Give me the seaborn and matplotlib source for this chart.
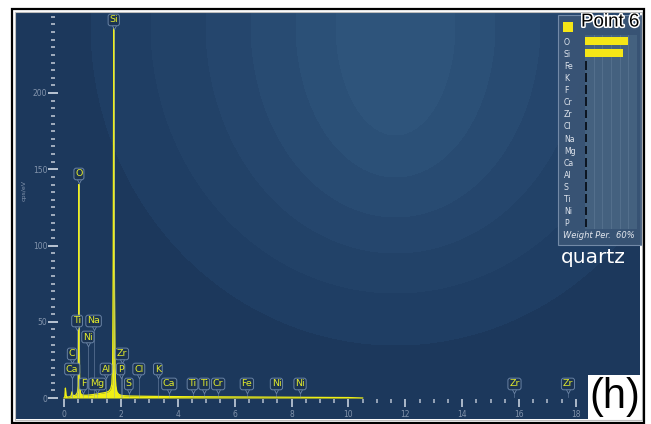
"""EDS spectrum, point 6 (quartz) — seaborn re-draw of the software screenshot."""

import numpy as np
import matplotlib
matplotlib.use("Agg")
import matplotlib.pyplot as plt
import matplotlib.patheffects as pe
from matplotlib.patches import Rectangle
from matplotlib.ticker import FixedLocator
import seaborn as sns

# ── Data ──────────────────────────────────────────────────────────────────────
energy_kev = [0.00, 0.03, 0.05, 0.07, 0.09, 0.13, 0.20, 0.25, 0.28, 0.31,
              0.36, 0.42, 0.47, 0.50, 0.515, 0.525, 0.535, 0.55, 0.58, 0.64,
              0.72, 0.80, 0.90, 1.00, 1.10, 1.20, 1.30, 1.40, 1.50, 1.58,
              1.64, 1.68, 1.71, 1.73, 1.75, 1.77, 1.79, 1.82, 1.86, 1.92,
              2.00, 2.10, 2.30, 2.60, 3.00, 3.50, 4.00, 5.00, 6.00, 7.00,
              8.00, 9.00, 10.00, 10.50]
counts_cps = [0.0, 1.0, 6.5, 2.0, 1.0, 0.6, 0.8, 1.5, 4.0, 1.8,
              1.5, 2.0, 3.5, 8.0, 45.0, 140.0, 45.0, 8.0, 3.0, 2.0,
              1.8, 1.8, 2.0, 2.2, 2.5, 2.8, 3.1, 3.4, 3.8, 4.5,
              6.0, 9.0, 20.0, 90.0, 243.0, 90.0, 20.0, 8.0, 4.0, 2.5,
              1.8, 1.5, 1.3, 1.2, 1.1, 1.0, 0.9, 0.8, 0.7, 0.6,
              0.5, 0.4, 0.3, 0.0]

# peak tags: element, line energy (keV), tag height (cps/eV)
tag_elements = ["Si", "O", "Ti", "Na", "Ni", "C", "Ca", "F", "Mg", "Al", "Zr", "P",
                "S", "Cl", "K", "Ca", "Ti", "Ti", "Cr", "Fe", "Ni", "Ni", "Zr", "Zr"]
tag_energies = [1.75, 0.525, 0.46, 1.04, 0.84, 0.28, 0.29, 0.68, 1.17, 1.48, 2.04, 1.99,
                2.28, 2.63, 3.30, 3.70, 4.52, 4.93, 5.42, 6.43, 7.47, 8.30, 15.84, 17.72]
tag_levels = [247.9, 146.9, 50.5, 50.5, 40.0, 28.9, 19.0, 9.2, 9.2, 19.0, 28.9, 19.0,
              9.2, 19.0, 19.0, 9.2, 9.2, 9.2, 9.2, 9.2, 9.2, 9.2, 9.2, 9.2]

# weight percent panel
wt_elements = ["O", "Si", "Fe", "K", "F", "Cr", "Zr", "Cl",
               "Na", "Mg", "Ca", "Al", "S", "Ti", "Ni", "P"]
wt_percent = [49.5, 43.8, 2.0, 2.0, 2.0, 2.0, 2.0, 2.0,
              2.0, 2.0, 2.0, 2.0, 2.0, 2.0, 2.0, 2.0]

X_MAJOR = [0, 2, 4, 6, 8, 10, 12, 14, 16, 18]
Y_MAJOR = [0, 50, 100, 150, 200]

# ── Layout (pixels of the 651x424 screenshot) ─────────────────────────────────
W, H = 651, 424
PX_X0, PX_PER_KEV = 64.0, 28.44       # x=0 keV at px 64
PX_Y0, PX_PER_CPS = 398.0, 1.525      # y=0 at px 398
PANEL = (16, 13, 640, 419)            # left, top, right, bottom

BG = "#1c385c"
YELLOW = "#f0f014"
TAG_TXT = "#e2ea2c"
TAG_FC = "#1b3352"
TAG_EC = "#6c86a8"
GREY_TXT = "#8394ac"


def fig_rect(x0, y0, x1, y1):
    return [x0 / W, 1 - y1 / H, (x1 - x0) / W, (y1 - y0) / H]


def kev(px):
    return (px - PX_X0) / PX_PER_KEV


def cps(py):
    return (PX_Y0 - py) / PX_PER_CPS


plt.rcParams["font.family"] = ["DejaVu Sans"]
fig = plt.figure(figsize=(6.51, 4.24), dpi=100)
fig.patch.set_facecolor("white")

# ── Background with concentric halo ───────────────────────────────────────────
ax_bg = fig.add_axes(fig_rect(*PANEL))
ax_bg.set_axis_off()
ax_bg.set_zorder(0)
yy, xx = np.mgrid[PANEL[1]:PANEL[3], PANEL[0]:PANEL[2]]
rings = [(305, 320), (245, 268), (190, 228), (145, 192), (100, 152), (60, 110)]
ring_cols = ["#1f3e64", "#224268", "#25466d", "#284b72", "#2b5077", "#2e547b"]
img = np.zeros(xx.shape + (3,))
img[:] = matplotlib.colors.to_rgb(BG)
for (rx, ry), col in zip(rings, ring_cols):
    inside = ((xx - 395) / rx) ** 2 + ((yy - 25) / ry) ** 2 < 1
    img[inside] = matplotlib.colors.to_rgb(col)
ax_bg.imshow(img, aspect="auto", interpolation="bilinear")

# ── Spectrum axes ─────────────────────────────────────────────────────────────
ax = fig.add_axes(fig_rect(*PANEL))
ax.set_zorder(1)
ax.patch.set_alpha(0)
ax.set_xlim(kev(PANEL[0]), kev(PANEL[2]))
ax.set_ylim(cps(PANEL[3]), cps(PANEL[1]))

ax.fill_between(energy_kev, 0, counts_cps, color=YELLOW, lw=0, zorder=2)
sns.lineplot(x=energy_kev, y=counts_cps, ax=ax, color=YELLOW, lw=0.9, zorder=3)

for s in ax.spines.values():
    s.set_color("none")
ax.spines["bottom"].set_position(("data", cps(399)))
ax.spines["left"].set_position(("data", kev(53.5)))
ax.xaxis.set_major_locator(FixedLocator(X_MAJOR))
ax.xaxis.set_minor_locator(FixedLocator(np.arange(0.5, 18, 0.5)))
ax.yaxis.set_major_locator(FixedLocator(Y_MAJOR))
ax.yaxis.set_minor_locator(FixedLocator(np.arange(5, 251, 5)))
ax.tick_params(axis="x", which="major", direction="out", length=5.8, width=1.2,
               color="#c5cfdc", labelcolor=GREY_TXT, labelsize=5.5, pad=2.0)
ax.tick_params(axis="x", which="minor", direction="out", length=3.0, width=1.2,
               color="#aab6c6")
ax.tick_params(axis="y", which="major", direction="inout", length=6.5, width=1.3,
               color="#c5cfdc", labelcolor=GREY_TXT, labelsize=5.5, pad=1.2)
ax.tick_params(axis="y", which="minor", direction="inout", length=2.4, width=1.3,
               color="#aab6c6")
ax.set_xlabel("")
ax.set_ylabel("")
fig.text(24 / W, 1 - 190 / H, "cps/eV", rotation=90, color=GREY_TXT,
         fontsize=4.5, ha="center", va="center")

# ── Peak tags ─────────────────────────────────────────────────────────────────
px_y = 1 / PX_PER_CPS
for el, e, lv in zip(tag_elements, tag_energies, tag_levels):
    ax.plot([e, e], [lv - 8 * px_y, 0.6], color="#8aa0bf", lw=0.5, alpha=0.6, zorder=3)
    ax.plot(e, lv - 7 * px_y, marker="v", ms=3.2, mfc=TAG_FC, mec=TAG_EC, mew=0.6,
            zorder=4)
    ax.text(e, lv, el, color=TAG_TXT, fontsize=6.8, ha="center", va="center", zorder=5,
            bbox=dict(boxstyle="round,pad=0.14,rounding_size=0.25", fc=TAG_FC,
                      ec=TAG_EC, lw=0.7, alpha=0.95))

# ── Weight percent panel ──────────────────────────────────────────────────────
fig.patches.append(Rectangle((558 / W, 1 - 245 / H), 84 / W, 230 / H,
                             transform=fig.transFigure, fc="#3a5576", ec="#7a90ad",
                             lw=0.8, alpha=0.92, zorder=1.5))
fig.patches.append(Rectangle((563 / W, 1 - 32 / H), 10 / W, 10 / H,
                             transform=fig.transFigure, fc="#f5e616", ec="none",
                             zorder=3))

ax_w = fig.add_axes(fig_rect(585, 35, 637, 229))
ax_w.set_zorder(2)
ax_w.set_facecolor("#44617f")
sns.barplot(x=wt_percent, y=wt_elements, hue=wt_elements, orient="h", ax=ax_w,
            palette=["#f5e616", "#f5e616"] + ["#0d1622"] * 14, width=0.7,
            legend=False, saturation=1)
ax_w.set_xlim(0, 60)
ax_w.set_xticks(np.arange(10, 60, 10))
ax_w.xaxis.grid(True, color="#57728f", lw=0.6)
ax_w.set_axisbelow(True)
ax_w.tick_params(axis="x", length=0, labelbottom=False)
ax_w.tick_params(axis="y", length=0, pad=15.2, labelsize=5.6, labelcolor="#dfe4ec")
for lab in ax_w.get_yticklabels():
    lab.set_ha("left")
for s in ax_w.spines.values():
    s.set_visible(False)
ax_w.set_xlabel("")
ax_w.set_ylabel("")

fig.text(563 / W, 1 - 236 / H, "Weight Per.  60%", color="#e3e7ee", fontsize=6,
         style="italic", ha="left", va="center", zorder=3)
fig.text(581 / W, 1 - 22 / H, "Point 6", color="black", fontsize=13.5,
         family="Liberation Sans", ha="left", va="center", zorder=6,
         path_effects=[pe.withStroke(linewidth=2.2, foreground="white")])
fig.text(561 / W, 1 - 263 / H, "quartz", color="white", fontsize=14.5,
         ha="left", va="baseline", zorder=3)

# ── Panel letter and frame ────────────────────────────────────────────────────
fig.patches.append(Rectangle((588 / W, 1 - 421 / H), 54 / W, 46 / H,
                             transform=fig.transFigure, fc="white", ec="none", zorder=5))
fig.text(615 / W, 1 - 397 / H, "(h)", color="black", fontsize=30,
         family="Liberation Sans", ha="center", va="center", zorder=6)
fig.patches.append(Rectangle((14.5 / W, 1 - 420 / H), 627 / W, 408.5 / H,
                             transform=fig.transFigure, fill=False, ec="#bdbdbd",
                             lw=0.8, zorder=7))
fig.patches.append(Rectangle((12 / W, 1 - 422.5 / H), 631.5 / W, 413.5 / H,
                             transform=fig.transFigure, fill=False, ec="black",
                             lw=1.6, zorder=8))

fig.savefig("out.png", dpi=100)
